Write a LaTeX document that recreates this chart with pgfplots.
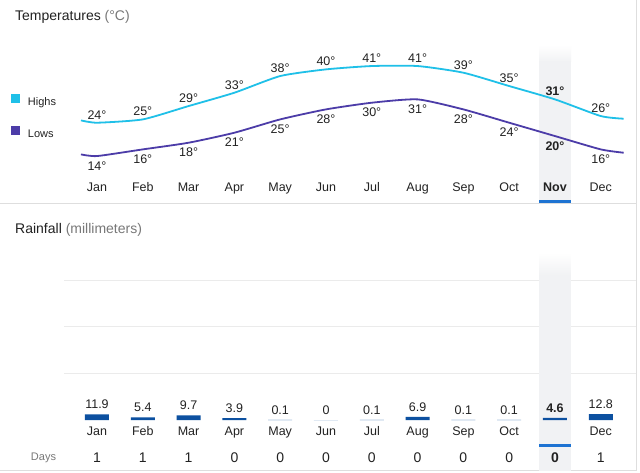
\documentclass[border=0pt]{standalone}
\usepackage{fontspec}
\setmainfont{Liberation Sans}
\usepackage{pgfplots}
\pgfplotsset{compat=1.18}
\definecolor{hicol}{RGB}{31,192,232}
\definecolor{locol}{RGB}{76,60,168}
\definecolor{barcol}{RGB}{12,80,160}
\definecolor{selblue}{RGB}{30,115,210}
\definecolor{bandgray}{RGB}{241,242,244}
\definecolor{gridcol}{RGB}{235,235,235}
\definecolor{txt}{RGB}{34,34,34}
\definecolor{subtxt}{RGB}{120,120,120}
\definecolor{bordercol}{RGB}{222,222,222}
\newcommand{\fs}[1]{\fontsize{#1}{#1}\selectfont}
\begin{document}
\begin{tikzpicture}
\path[use as bounding box, fill=white] (0pt,0pt) rectangle (640pt,472pt);
% Nov band (top panel)
\shade[top color=white, bottom color=bandgray] (539pt,427pt) rectangle (571pt,410pt);
\fill[bandgray] (539pt,410.5pt) rectangle (571pt,271pt);
% borders
\draw[bordercol, line width=1pt] (0pt,268pt) -- (636.5pt,268pt);
\draw[bordercol, line width=1pt] (636.5pt,472pt) -- (636.5pt,1.3pt) -- (0pt,1.3pt);
% titles
\node[anchor=base west, inner sep=0pt, text=txt] at (15pt,451.3pt) {\fs{14}Temperatures \textcolor{subtxt}{(°C)}};
\node[anchor=base west, inner sep=0pt, text=txt] at (15pt,238.7pt) {\fs{14}Rainfall \textcolor{subtxt}{(millimeters)}};
\node[anchor=base, inner sep=0pt, text=subtxt] at (43.5pt,12pt) {\fs{11}Days};

% ---------- Temperatures ----------
\begin{axis}[
  at={(64pt,302.6pt)}, anchor=south west,
  scale only axis, width=572pt, height=116.7pt,
  xmin=-0.7205, xmax=11.769, ymin=10, ymax=45,
  axis line style={draw=none}, tick style={draw=none},
  ytick=\empty,
  xtick={0,...,11},
  xticklabels={Jan,Feb,Mar,Apr,May,Jun,Jul,Aug,Sep,Oct,\textbf{Nov},Dec},
  xticklabel style={anchor=base, inner sep=0pt, yshift=-22.3pt, font=\fs{12.5}, text=txt},
  clip=false,
  legend style={at={(-0.09266,0.650)}, anchor=north west, draw=none, fill=none,
    inner sep=0pt, font=\fs{11}, text=txt, row sep=19pt, column sep=8pt,
    nodes={inner sep=0pt}},
  legend cell align=left,
  legend image code/.code={\fill[#1] (0pt,0.5pt) rectangle (7pt,7.5pt);},
]
\addplot[hicol, line width=1.8pt, smooth, tension=0.35] coordinates {
  (-0.35,24.7) (0,24) (1,25) (2,29) (3,33) (4,38) (5,40) (6,41) (7,41)
  (8,39) (9,35) (10,31) (11,26) (11.5,25.2)};
\addlegendentry{Highs}
\addplot[locol, line width=1.8pt, smooth, tension=0.35] coordinates {
  (-0.35,14.5) (0,14) (1,16) (2,18) (3,21) (4,25) (5,28) (6,30) (7,31)
  (8,28) (9,24) (10,20) (11,16) (11.5,15.0)};
\addlegendentry{Lows}
\addplot[draw=none, forget plot, nodes near coords, point meta=explicit symbolic,
  every node near coord/.append style={anchor=base, inner sep=0pt, yshift=3.5pt, font=\fs{12.5}, text=txt}]
  coordinates {(0,24)[24°] (1,25)[25°] (2,29)[29°] (3,33)[33°] (4,38)[38°] (5,40)[40°]
  (6,41)[41°] (7,41)[41°] (8,39)[39°] (9,35)[35°] (10,31)[\textbf{31°}] (11,26)[26°]};
\addplot[draw=none, forget plot, nodes near coords, point meta=explicit symbolic,
  every node near coord/.append style={anchor=base, inner sep=0pt, yshift=-14pt, font=\fs{12.5}, text=txt}]
  coordinates {(0,14)[14°] (1,16)[16°] (2,18)[18°] (3,21)[21°] (4,25)[25°] (5,28)[28°]
  (6,30)[30°] (7,31)[31°] (8,28)[28°] (9,24)[24°] (10,20)[\textbf{20°}] (11,16)[16°]};
\end{axis}

% ---------- Rainfall ----------
\begin{axis}[
  at={(64pt,52pt)}, anchor=south west,
  scale only axis, width=572pt, height=140.1pt,
  xmin=-0.7205, xmax=11.769, ymin=0, ymax=300,
  axis line style={draw=none}, tick style={draw=none},
  ytick={100,200,300}, yticklabels={}, ymajorgrids,
  grid style={gridcol, line width=0.8pt},
  xtick={0,...,11},
  xticklabels={Jan,Feb,Mar,Apr,May,Jun,Jul,Aug,Sep,Oct,\textbf{Nov},Dec},
  xticklabel style={anchor=base, inner sep=0pt, yshift=-15pt, font=\fs{12.5}, text=txt},
  clip=false,
]
\shade[top color=white, bottom color=bandgray] (axis cs:9.651,357.6) rectangle (axis cs:10.349,310.5);
\fill[bandgray] (axis cs:9.651,311.5) rectangle (axis cs:10.349,-108.6);
\addplot[ybar, bar width=24pt, fill=barcol, draw=none, nodes near coords, point meta=explicit symbolic,
  every node near coord/.append style={anchor=base, inner sep=0pt, yshift=5.5pt, font=\fs{12.5}, text=txt}]
  coordinates {(0,11.9)[11.9] (1,5.4)[5.4] (2,9.7)[9.7] (3,3.9)[3.9] (4,0.1)[0.1] (5,0)[0]
  (6,0.1)[0.1] (7,6.9)[6.9] (8,0.1)[0.1] (9,0.1)[0.1] (10,4.6)[\textbf{4.6}] (11,12.8)[12.8]};
\addplot[draw=none, nodes near coords, point meta=explicit symbolic,
  every node near coord/.append style={anchor=base, inner sep=0pt, font=\fs{14}, text=txt}]
  coordinates {(0,-91.4)[1] (1,-91.4)[1] (2,-91.4)[1] (3,-91.4)[0] (4,-91.4)[0] (5,-91.4)[0]
  (6,-91.4)[0] (7,-91.4)[0] (8,-91.4)[0] (9,-91.4)[0] (10,-91.4)[\textbf{0}] (11,-91.4)[1]};
\end{axis}
% selection underlines
\fill[selblue] (539pt,268.5pt) rectangle (571pt,271.5pt);
\fill[selblue] (539pt,25pt) rectangle (571pt,28pt);
\end{tikzpicture}
\end{document}
